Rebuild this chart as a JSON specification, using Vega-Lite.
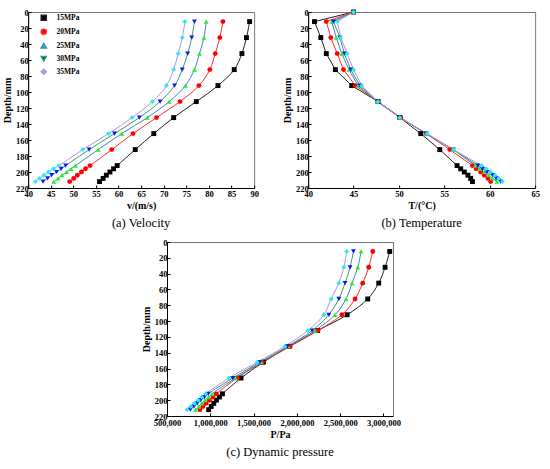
{
  "$schema": "https://vega.github.io/schema/vega-lite/v6.json",
  "background": "white",
  "padding": {"left": 1, "top": 7, "right": 4, "bottom": 2},
  "datasets": {
    "flow": [
      {"MPa": "15MPa", "d": 0, "T": 45.0},
      {"MPa": "20MPa", "d": 0, "T": 45.0},
      {"MPa": "25MPa", "d": 0, "T": 45.0},
      {"MPa": "30MPa", "d": 0, "T": 45.0},
      {"MPa": "35MPa", "d": 0, "T": 45.0},
      {"MPa": "15MPa", "d": 12, "v": 89.0, "T": 40.7, "P": 3072000},
      {"MPa": "15MPa", "d": 32, "v": 88.3, "T": 41.4, "P": 3018000},
      {"MPa": "15MPa", "d": 52, "v": 87.3, "T": 42.0, "P": 2945000},
      {"MPa": "15MPa", "d": 72, "v": 85.6, "T": 43.0, "P": 2818000},
      {"MPa": "15MPa", "d": 92, "v": 82.0, "T": 44.8, "P": 2580000},
      {"MPa": "15MPa", "d": 112, "v": 77.2, "T": 47.7, "P": 2240000},
      {"MPa": "15MPa", "d": 132, "v": 72.2, "T": 50.1, "P": 1912000},
      {"MPa": "15MPa", "d": 152, "v": 67.8, "T": 52.4, "P": 1612000},
      {"MPa": "15MPa", "d": 172, "v": 63.7, "T": 54.5, "P": 1355000},
      {"MPa": "15MPa", "d": 192, "v": 59.7, "T": 56.4, "P": 1140000},
      {"MPa": "15MPa", "d": 196, "v": 58.9, "T": 56.8, "P": 1105000},
      {"MPa": "15MPa", "d": 200, "v": 58.1, "T": 57.2, "P": 1070000},
      {"MPa": "15MPa", "d": 204, "v": 57.3, "T": 57.6, "P": 1040000},
      {"MPa": "15MPa", "d": 208, "v": 56.6, "T": 57.9, "P": 1010000},
      {"MPa": "15MPa", "d": 212, "v": 55.8, "T": 58.1, "P": 981000},
      {"MPa": "20MPa", "d": 12, "v": 83.1, "T": 42.0, "P": 2876000},
      {"MPa": "20MPa", "d": 32, "v": 82.4, "T": 42.5, "P": 2830000},
      {"MPa": "20MPa", "d": 52, "v": 81.4, "T": 43.2, "P": 2760000},
      {"MPa": "20MPa", "d": 72, "v": 80.2, "T": 43.9, "P": 2672000},
      {"MPa": "20MPa", "d": 92, "v": 77.8, "T": 45.2, "P": 2520000},
      {"MPa": "20MPa", "d": 112, "v": 73.6, "T": 47.7, "P": 2242000},
      {"MPa": "20MPa", "d": 132, "v": 68.4, "T": 50.2, "P": 1922000},
      {"MPa": "20MPa", "d": 152, "v": 63.2, "T": 53.0, "P": 1600000},
      {"MPa": "20MPa", "d": 172, "v": 58.5, "T": 55.6, "P": 1310000},
      {"MPa": "20MPa", "d": 192, "v": 53.7, "T": 58.1, "P": 1069000},
      {"MPa": "20MPa", "d": 196, "v": 52.7, "T": 58.5, "P": 1030000},
      {"MPa": "20MPa", "d": 200, "v": 51.8, "T": 59.0, "P": 990000},
      {"MPa": "20MPa", "d": 204, "v": 50.9, "T": 59.4, "P": 950000},
      {"MPa": "20MPa", "d": 208, "v": 50.1, "T": 59.8, "P": 915000},
      {"MPa": "20MPa", "d": 212, "v": 49.2, "T": 60.1, "P": 880000},
      {"MPa": "25MPa", "d": 12, "v": 79.4, "T": 42.6, "P": 2741000},
      {"MPa": "25MPa", "d": 32, "v": 78.9, "T": 43.1, "P": 2703000},
      {"MPa": "25MPa", "d": 52, "v": 77.9, "T": 43.7, "P": 2637000},
      {"MPa": "25MPa", "d": 72, "v": 76.8, "T": 44.5, "P": 2568000},
      {"MPa": "25MPa", "d": 92, "v": 74.8, "T": 45.5, "P": 2441000},
      {"MPa": "25MPa", "d": 112, "v": 71.2, "T": 47.6, "P": 2210000},
      {"MPa": "25MPa", "d": 132, "v": 66.4, "T": 50.1, "P": 1900000},
      {"MPa": "25MPa", "d": 152, "v": 60.7, "T": 53.0, "P": 1588000},
      {"MPa": "25MPa", "d": 172, "v": 55.5, "T": 56.0, "P": 1292000},
      {"MPa": "25MPa", "d": 192, "v": 50.5, "T": 58.4, "P": 1020000},
      {"MPa": "25MPa", "d": 196, "v": 49.5, "T": 58.9, "P": 980000},
      {"MPa": "25MPa", "d": 200, "v": 48.5, "T": 59.4, "P": 940000},
      {"MPa": "25MPa", "d": 204, "v": 47.5, "T": 59.9, "P": 900000},
      {"MPa": "25MPa", "d": 208, "v": 46.6, "T": 60.3, "P": 865000},
      {"MPa": "25MPa", "d": 212, "v": 45.7, "T": 60.8, "P": 830000},
      {"MPa": "30MPa", "d": 12, "v": 76.8, "T": 42.8, "P": 2653000},
      {"MPa": "30MPa", "d": 32, "v": 76.2, "T": 43.5, "P": 2614000},
      {"MPa": "30MPa", "d": 52, "v": 75.3, "T": 44.0, "P": 2556000},
      {"MPa": "30MPa", "d": 72, "v": 74.1, "T": 44.7, "P": 2484000},
      {"MPa": "30MPa", "d": 92, "v": 72.4, "T": 45.7, "P": 2368000},
      {"MPa": "30MPa", "d": 112, "v": 69.2, "T": 47.7, "P": 2176000},
      {"MPa": "30MPa", "d": 132, "v": 64.6, "T": 50.1, "P": 1890000},
      {"MPa": "30MPa", "d": 152, "v": 59.1, "T": 53.0, "P": 1570000},
      {"MPa": "30MPa", "d": 172, "v": 53.5, "T": 56.0, "P": 1260000},
      {"MPa": "30MPa", "d": 192, "v": 48.3, "T": 58.7, "P": 975000},
      {"MPa": "30MPa", "d": 196, "v": 47.3, "T": 59.2, "P": 933000},
      {"MPa": "30MPa", "d": 200, "v": 46.3, "T": 59.7, "P": 890000},
      {"MPa": "30MPa", "d": 204, "v": 45.2, "T": 60.3, "P": 850000},
      {"MPa": "30MPa", "d": 208, "v": 44.3, "T": 60.7, "P": 810000},
      {"MPa": "30MPa", "d": 212, "v": 43.3, "T": 61.2, "P": 770000},
      {"MPa": "35MPa", "d": 12, "v": 74.7, "T": 43.2, "P": 2576000},
      {"MPa": "35MPa", "d": 32, "v": 74.1, "T": 43.6, "P": 2542000},
      {"MPa": "35MPa", "d": 52, "v": 73.2, "T": 44.3, "P": 2484000},
      {"MPa": "35MPa", "d": 72, "v": 72.2, "T": 45.0, "P": 2395000},
      {"MPa": "35MPa", "d": 92, "v": 70.6, "T": 45.9, "P": 2311000},
      {"MPa": "35MPa", "d": 112, "v": 67.5, "T": 47.7, "P": 2126000},
      {"MPa": "35MPa", "d": 132, "v": 63.0, "T": 50.1, "P": 1860000},
      {"MPa": "35MPa", "d": 152, "v": 57.8, "T": 53.1, "P": 1542000},
      {"MPa": "35MPa", "d": 172, "v": 52.1, "T": 56.0, "P": 1215000},
      {"MPa": "35MPa", "d": 192, "v": 46.8, "T": 59.1, "P": 946000},
      {"MPa": "35MPa", "d": 196, "v": 45.6, "T": 59.6, "P": 900000},
      {"MPa": "35MPa", "d": 200, "v": 44.5, "T": 60.1, "P": 860000},
      {"MPa": "35MPa", "d": 204, "v": 43.5, "T": 60.6, "P": 815000},
      {"MPa": "35MPa", "d": 208, "v": 42.5, "T": 61.0, "P": 775000},
      {"MPa": "35MPa", "d": 212, "v": 41.6, "T": 61.4, "P": 731000}
    ]
  },
  "spacing": 7,
  "center": true,
  "vconcat": [
    {
      "spacing": 22,
      "hconcat": [
        {
          "width": 226,
          "height": 176,
          "data": {"name": "flow"},
          "transform": [{"filter": "isValid(datum.v)"}],
          "title": {"text": "(a) Velocity"},
          "encoding": {
            "y": {"field": "d", "type": "quantitative", "title": "Depth/mm",
              "scale": {"domain": [0, 220], "reverse": true, "nice": false},
              "axis": {"values": [0, 20, 40, 60, 80, 100, 120, 140, 160, 180, 200, 220]}},
            "x": {"field": "v", "type": "quantitative", "title": "v/(m/s)",
              "scale": {"domain": [40, 90], "nice": false, "zero": false},
              "axis": {"values": [40, 45, 50, 55, 60, 65, 70, 75, 80, 85, 90]}}
          },
          "layer": [
            {
              "mark": {"type": "line", "strokeWidth": 1, "interpolate": "catmull-rom"},
              "encoding": {
                "order": {"field": "d", "type": "quantitative"},
                "stroke": {"field": "MPa", "type": "nominal",
                  "scale": {"domain": ["15MPa", "20MPa", "25MPa", "30MPa", "35MPa"], "range": ["#222222", "#ff2a2a", "#3f7fdc", "#34a064", "#bb8ee6"]},
                  "legend": {"orient": "none", "legendX": 12, "legendY": 2, "title": null}}
              }
            },
            {
              "mark": {"type": "point", "filled": true, "size": 24, "opacity": 1},
              "encoding": {
                "fill": {"field": "MPa", "type": "nominal",
                  "scale": {"domain": ["15MPa", "20MPa", "25MPa", "30MPa", "35MPa"], "range": ["#000000", "#ff0000", "#22ee22", "#1010ff", "#22eeee"]},
                  "legend": {"orient": "none", "legendX": 12, "legendY": 2, "title": null}},
                "shape": {"field": "MPa", "type": "nominal",
                  "scale": {"domain": ["15MPa", "20MPa", "25MPa", "30MPa", "35MPa"], "range": ["square", "circle", "triangle-up", "triangle-down", "diamond"]},
                  "legend": {"orient": "none", "legendX": 12, "legendY": 2, "title": null}}
              }
            }
          ]
        },
        {
          "width": 227,
          "height": 176,
          "data": {"name": "flow"},
          "transform": [{"filter": "isValid(datum.T)"}],
          "title": {"text": "(b) Temperature"},
          "encoding": {
            "y": {"field": "d", "type": "quantitative", "title": "Depth/mm",
              "scale": {"domain": [0, 220], "reverse": true, "nice": false},
              "axis": {"values": [0, 20, 40, 60, 80, 100, 120, 140, 160, 180, 200, 220]}},
            "x": {"field": "T", "type": "quantitative", "title": "T/(°C)",
              "scale": {"domain": [40, 65], "nice": false, "zero": false},
              "axis": {"values": [40, 45, 50, 55, 60, 65]}}
          },
          "layer": [
            {
              "mark": {"type": "line", "strokeWidth": 1},
              "encoding": {
                "order": {"field": "d", "type": "quantitative"},
                "stroke": {"field": "MPa", "type": "nominal",
                  "scale": {"domain": ["15MPa", "20MPa", "25MPa", "30MPa", "35MPa"], "range": ["#222222", "#ff2a2a", "#3f7fdc", "#34a064", "#bb8ee6"]},
                  "legend": {"orient": "none", "legendX": 185, "legendY": 1, "title": null}}
              }
            },
            {
              "mark": {"type": "point", "filled": true, "size": 24, "opacity": 1},
              "encoding": {
                "fill": {"field": "MPa", "type": "nominal",
                  "scale": {"domain": ["15MPa", "20MPa", "25MPa", "30MPa", "35MPa"], "range": ["#000000", "#ff0000", "#22ee22", "#1010ff", "#22eeee"]},
                  "legend": {"orient": "none", "legendX": 185, "legendY": 1, "title": null}},
                "shape": {"field": "MPa", "type": "nominal",
                  "scale": {"domain": ["15MPa", "20MPa", "25MPa", "30MPa", "35MPa"], "range": ["square", "circle", "triangle-up", "triangle-down", "diamond"]},
                  "legend": {"orient": "none", "legendX": 185, "legendY": 1, "title": null}}
              }
            }
          ]
        }
      ]
    },
    {
      "width": 226,
      "height": 174,
      "data": {"name": "flow"},
      "transform": [{"filter": "isValid(datum.P)"}],
      "title": {"text": "(c) Dynamic pressure"},
      "encoding": {
        "y": {"field": "d", "type": "quantitative", "title": "Depth/mm",
          "scale": {"domain": [0, 220], "reverse": true, "nice": false},
          "axis": {"values": [0, 20, 40, 60, 80, 100, 120, 140, 160, 180, 200, 220]}},
        "x": {"field": "P", "type": "quantitative", "title": "P/Pa",
          "scale": {"domain": [500000, 3110000], "nice": false, "zero": false},
          "axis": {"values": [500000, 1000000, 1500000, 2000000, 2500000, 3000000], "labelExpr": "format(datum.value, ',')", "labelPadding": 5}}
      },
      "layer": [
        {
          "mark": {"type": "line", "strokeWidth": 1, "interpolate": "catmull-rom"},
          "encoding": {
            "order": {"field": "d", "type": "quantitative"},
            "stroke": {"field": "MPa", "type": "nominal",
              "scale": {"domain": ["15MPa", "20MPa", "25MPa", "30MPa", "35MPa"], "range": ["#222222", "#ff2a2a", "#3f7fdc", "#34a064", "#bb8ee6"]},
              "legend": {"orient": "none", "legendX": 11, "legendY": 4, "title": null}}
          }
        },
        {
          "mark": {"type": "point", "filled": true, "size": 24, "opacity": 1},
          "encoding": {
            "fill": {"field": "MPa", "type": "nominal",
              "scale": {"domain": ["15MPa", "20MPa", "25MPa", "30MPa", "35MPa"], "range": ["#000000", "#ff0000", "#22ee22", "#1010ff", "#22eeee"]},
              "legend": {"orient": "none", "legendX": 11, "legendY": 4, "title": null}},
            "shape": {"field": "MPa", "type": "nominal",
              "scale": {"domain": ["15MPa", "20MPa", "25MPa", "30MPa", "35MPa"], "range": ["square", "circle", "triangle-up", "triangle-down", "diamond"]},
              "legend": {"orient": "none", "legendX": 11, "legendY": 4, "title": null}}
          }
        }
      ]
    }
  ],
  "resolve": {"scale": {"x": "independent", "y": "independent"}},
  "config": {
    "view": {"stroke": "#777777", "strokeWidth": 1},
    "font": "Liberation Serif",
    "axis": {
      "grid": false,
      "domainColor": "#000000",
      "domainWidth": 1,
      "tickColor": "#000000",
      "tickSize": -3,
      "labelPadding": 3,
      "labelFont": "Liberation Serif",
      "labelFontWeight": "bold",
      "labelFontSize": 8.5,
      "labelColor": "#000000",
      "titleFont": "Liberation Serif",
      "titleFontWeight": "bold",
      "titleFontSize": 10,
      "titleColor": "#000000",
      "titlePadding": 3
    },
    "axisX": {"labelFlush": false, "labelPadding": 4},
    "axisY": {"labelFlush": false},
    "legend": {
      "labelFont": "Liberation Serif",
      "labelFontWeight": "bold",
      "labelFontSize": 7.5,
      "labelColor": "#000000",
      "symbolSize": 26,
      "symbolStrokeWidth": 1.5,
      "rowPadding": 2,
      "padding": 0,
      "labelOffset": 9
    },
    "title": {
      "orient": "bottom",
      "font": "Liberation Serif",
      "fontSize": 12.5,
      "fontWeight": "normal",
      "color": "#000000",
      "offset": 6,
      "anchor": "middle"
    }
  }
}
